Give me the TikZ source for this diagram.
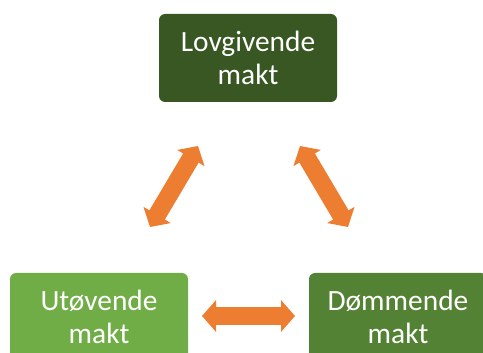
\documentclass[tikz,border=0pt]{standalone}
\usepackage{fontspec}
\setmainfont{Carlito}
\usetikzlibrary{arrows.meta}
\definecolor{topgreen}{HTML}{385723}
\definecolor{leftgreen}{HTML}{70AD47}
\definecolor{rightgreen}{HTML}{548235}
\definecolor{arroworange}{HTML}{ED7D31}
\tikzset{
  powerbox/.style={rectangle, rounded corners=6pt, minimum width=178pt, minimum height=88pt,
    inner sep=0pt, align=center, text=white, font=\fontsize{29.4}{33}\selectfont},
  blockarrow/.style={draw=arroworange, line width=18pt, line cap=butt,
    {Triangle[width=31pt,length=14pt]}-{Triangle[width=31pt,length=14pt]}}
}
\begin{document}
\begin{tikzpicture}[x=1pt,y=-1pt]
\useasboundingbox (0,0) rectangle (483,353);
\clip (0,0) rectangle (483,353);
\node[powerbox, fill=topgreen] (lov) at (248,58) {Lovgivende\\makt};
\node[powerbox, fill=leftgreen] (ut) at (99,317) {Utøvende\\makt};
\node[powerbox, fill=rightgreen] (dom) at (398,317) {Dømmende\\makt};
\coordinate (la) at (150,227);
\coordinate (lb) at (198,146);
\coordinate (ra) at (300,146);
\coordinate (rb) at (348,227);
\coordinate (ba) at (202,316);
\coordinate (bb) at (295,316);
\draw[blockarrow] (la) -- (lb);
\draw[blockarrow] (ra) -- (rb);
\draw[blockarrow] (ba) -- (bb);
\end{tikzpicture}
\end{document}
